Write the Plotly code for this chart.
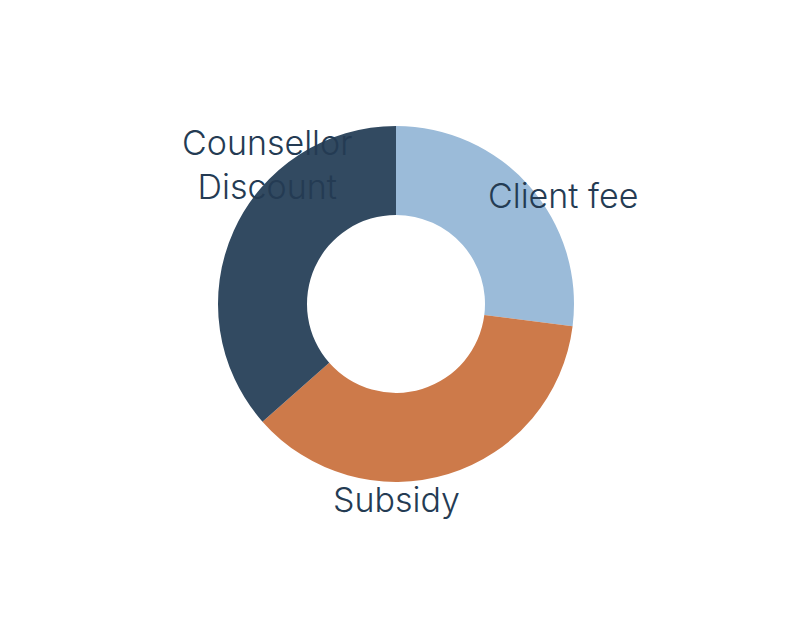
import plotly.graph_objects as go

labels = ["Client fee", "Subsidy", "Counsellor<br>Discount"]
values = [27, 36.5, 36.5]
colors = ["#9BBBD9", "#CD7A4A", "#324A61"]
label_pos = [(0.79, 0.735), (0.485, 0.175), (0.215, 0.82)]

fig = go.Figure(go.Pie(
    labels=labels,
    values=values,
    hole=0.5,
    sort=False,
    direction="clockwise",
    rotation=0,
    marker=dict(colors=colors, line=dict(width=0)),
    textinfo="none",
    hoverinfo="label+percent",
    domain=dict(x=[0.2625, 0.7075], y=[0.239, 0.811]),
    showlegend=False,
))
for lab, (x, y) in zip(labels, label_pos):
    fig.add_annotation(
        text=lab, x=x, y=y, xref="paper", yref="paper",
        showarrow=False, align="center",
        font=dict(family="Inter", size=34, color="#243B53", weight=300),
    )
fig.update_layout(
    width=800, height=623,
    paper_bgcolor="white",
    margin=dict(l=0, r=0, t=0, b=0),
)
fig.write_html("out.html")
